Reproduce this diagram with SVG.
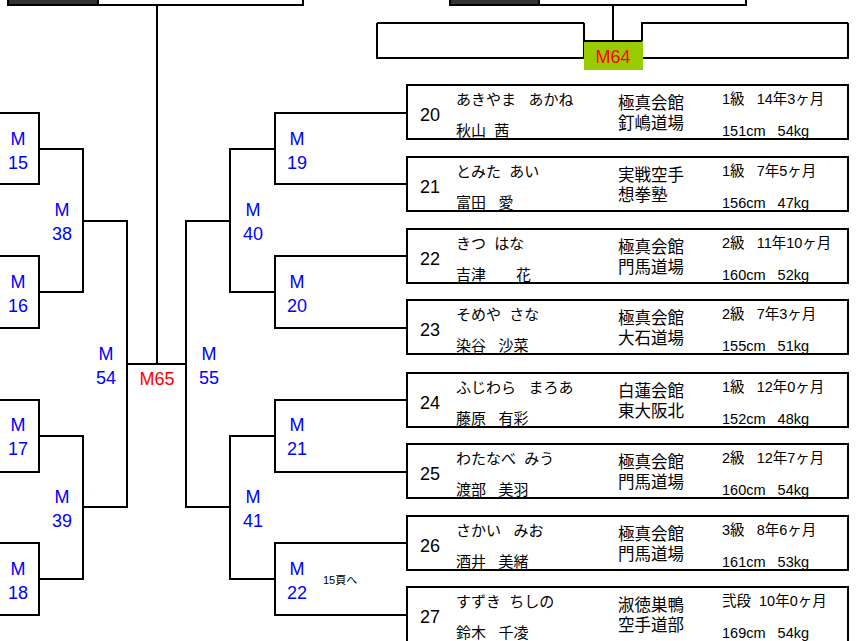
<svg xmlns="http://www.w3.org/2000/svg" width="856" height="641" viewBox="0 0 856 641">
<style>
.ln{stroke:#000;stroke-width:2;fill:none}
.bx{stroke:#000;stroke-width:2;fill:#fff}
.mb{font-family:"Liberation Sans","Noto Sans CJK JP",sans-serif;font-size:18px;fill:#0000ff;text-anchor:middle}
.mr{font-family:"Liberation Sans","Noto Sans CJK JP",sans-serif;font-size:18px;fill:#ff0000;text-anchor:middle}
.t{font-family:"Liberation Sans","Noto Sans CJK JP",sans-serif;fill:#000}
.num{font-size:18px}
.kn{font-size:15px}
.dj{font-size:16.5px}
.rk{font-size:14.5px}
.ht{font-size:14.5px}
.sm{font-family:"Liberation Sans","Noto Sans CJK JP",sans-serif;font-size:11px;fill:#000}
</style>
<rect width="856" height="641" fill="#fff"/>
<g id="connectors">
<rect x="8" y="-10" width="90" height="15" fill="#333" stroke="#000" stroke-width="2"/>
<rect x="98" y="-10" width="205" height="15" class="bx"/>
<line x1="157" y1="5" x2="157" y2="364" class="ln"/>
<rect x="450" y="-10" width="89" height="15" fill="#333" stroke="#000" stroke-width="2"/>
<rect x="539" y="-10" width="207" height="15" class="bx"/>
<line x1="613" y1="5" x2="613" y2="41" class="ln"/>
<polyline points="377,23 377,58 584,58 584,23" class="ln"/>
<line x1="377" y1="23" x2="584" y2="23" class="ln"/>
<polyline points="848,23 642,23 642,58 848,58 848,23" class="ln"/>
<polyline points="0,113 39,113 39,184 0,184" class="ln"/>
<polyline points="0,256 39,256 39,328 0,328" class="ln"/>
<polyline points="0,400 39,400 39,472 0,472" class="ln"/>
<polyline points="0,543 39,543 39,615 0,615" class="ln"/>
<polyline points="39,149 83,149 83,292 39,292" class="ln"/>
<polyline points="39,436 83,436 83,579 39,579" class="ln"/>
<polyline points="83,221 127,221 127,507 83,507" class="ln"/>
<line x1="127" y1="364" x2="186" y2="364" class="ln"/>
<polyline points="230,221 186,221 186,507 230,507" class="ln"/>
<polyline points="275,149 230,149 230,292 275,292" class="ln"/>
<polyline points="275,436 230,436 230,579 275,579" class="ln"/>
<polyline points="407,113 275,113 275,184 407,184" class="ln"/>
<polyline points="407,256 275,256 275,328 407,328" class="ln"/>
<polyline points="407,400 275,400 275,472 407,472" class="ln"/>
<polyline points="407,543 275,543 275,615 407,615" class="ln"/>
</g>
<g id="m64">
<rect x="584" y="41" width="59" height="29" fill="#99cc00"/>
<line x1="584" y1="41" x2="642" y2="41" class="ln"/>
<text x="613" y="63" class="mr">M64</text>
</g>
<g id="m15"><text x="18" y="145" class="mb">M</text><text x="18" y="169" class="mb">15</text></g>
<g id="m16"><text x="18" y="288" class="mb">M</text><text x="18" y="312" class="mb">16</text></g>
<g id="m17"><text x="18" y="431" class="mb">M</text><text x="18" y="455" class="mb">17</text></g>
<g id="m18"><text x="18" y="575" class="mb">M</text><text x="18" y="599" class="mb">18</text></g>
<g id="m38"><text x="62" y="216" class="mb">M</text><text x="62" y="240" class="mb">38</text></g>
<g id="m39"><text x="62" y="503" class="mb">M</text><text x="62" y="527" class="mb">39</text></g>
<g id="m54"><text x="106" y="360" class="mb">M</text><text x="106" y="384" class="mb">54</text></g>
<g id="m65"><text x="157" y="385" class="mr">M65</text></g>
<g id="m55"><text x="209" y="360" class="mb">M</text><text x="209" y="384" class="mb">55</text></g>
<g id="m40"><text x="253" y="216" class="mb">M</text><text x="253" y="240" class="mb">40</text></g>
<g id="m41"><text x="253" y="503" class="mb">M</text><text x="253" y="527" class="mb">41</text></g>
<g id="m19"><text x="297" y="145" class="mb">M</text><text x="297" y="169" class="mb">19</text></g>
<g id="m20"><text x="297" y="288" class="mb">M</text><text x="297" y="312" class="mb">20</text></g>
<g id="m21"><text x="297" y="431" class="mb">M</text><text x="297" y="455" class="mb">21</text></g>
<g id="m22"><text x="297" y="575" class="mb">M</text><text x="297" y="599" class="mb">22</text><text x="323" y="584" class="sm">15頁へ</text></g>

<g id="e20" transform="translate(0,85)">
<rect x="407" y="0" width="441" height="54" class="bx"/>
<text x="420" y="36" class="t num">20</text>
<text x="456" y="20" class="t kn">あきやま&#160;&#160;&#160;あかね</text>
<text x="456" y="51" class="t kn">秋山&#160;&#160;茜</text>
<text x="618" y="24" class="t dj">極真会館</text>
<text x="618" y="44" class="t dj">釘嶋道場</text>
<text x="722" y="19" class="t rk">1級&#160;&#160;&#160;14年3ヶ月</text>
<text x="722" y="51" class="t ht">151cm&#160;&#160;&#160;54kg</text>
</g>
<g id="e21" transform="translate(0,157)">
<rect x="407" y="0" width="441" height="54" class="bx"/>
<text x="420" y="36" class="t num">21</text>
<text x="456" y="20" class="t kn">とみた&#160;&#160;あい</text>
<text x="456" y="51" class="t kn">富田&#160;&#160;&#160;愛</text>
<text x="618" y="24" class="t dj">実戦空手</text>
<text x="618" y="44" class="t dj">想拳塾</text>
<text x="722" y="19" class="t rk">1級&#160;&#160;&#160;7年5ヶ月</text>
<text x="722" y="51" class="t ht">156cm&#160;&#160;&#160;47kg</text>
</g>
<g id="e22" transform="translate(0,229)">
<rect x="407" y="0" width="441" height="54" class="bx"/>
<text x="420" y="36" class="t num">22</text>
<text x="456" y="20" class="t kn">きつ&#160;&#160;はな</text>
<text x="456" y="51" class="t kn">吉津　　花</text>
<text x="618" y="24" class="t dj">極真会館</text>
<text x="618" y="44" class="t dj">門馬道場</text>
<text x="722" y="19" class="t rk">2級&#160;&#160;&#160;11年10ヶ月</text>
<text x="722" y="51" class="t ht">160cm&#160;&#160;&#160;52kg</text>
</g>
<g id="e23" transform="translate(0,300)">
<rect x="407" y="0" width="441" height="54" class="bx"/>
<text x="420" y="36" class="t num">23</text>
<text x="456" y="20" class="t kn">そめや&#160;&#160;さな</text>
<text x="456" y="51" class="t kn">染谷&#160;&#160;&#160;沙菜</text>
<text x="618" y="24" class="t dj">極真会館</text>
<text x="618" y="44" class="t dj">大石道場</text>
<text x="722" y="19" class="t rk">2級&#160;&#160;&#160;7年3ヶ月</text>
<text x="722" y="51" class="t ht">155cm&#160;&#160;&#160;51kg</text>
</g>
<g id="e24" transform="translate(0,373)">
<rect x="407" y="0" width="441" height="54" class="bx"/>
<text x="420" y="36" class="t num">24</text>
<text x="456" y="20" class="t kn">ふじわら&#160;&#160;&#160;まろあ</text>
<text x="456" y="51" class="t kn">藤原&#160;&#160;&#160;有彩</text>
<text x="618" y="24" class="t dj">白蓮会館</text>
<text x="618" y="44" class="t dj">東大阪北</text>
<text x="722" y="19" class="t rk">1級&#160;&#160;&#160;12年0ヶ月</text>
<text x="722" y="51" class="t ht">152cm&#160;&#160;&#160;48kg</text>
</g>
<g id="e25" transform="translate(0,444)">
<rect x="407" y="0" width="441" height="54" class="bx"/>
<text x="420" y="36" class="t num">25</text>
<text x="456" y="20" class="t kn">わたなべ&#160;&#160;みう</text>
<text x="456" y="51" class="t kn">渡部&#160;&#160;&#160;美羽</text>
<text x="618" y="24" class="t dj">極真会館</text>
<text x="618" y="44" class="t dj">門馬道場</text>
<text x="722" y="19" class="t rk">2級&#160;&#160;&#160;12年7ヶ月</text>
<text x="722" y="51" class="t ht">160cm&#160;&#160;&#160;54kg</text>
</g>
<g id="e26" transform="translate(0,516)">
<rect x="407" y="0" width="441" height="54" class="bx"/>
<text x="420" y="36" class="t num">26</text>
<text x="456" y="20" class="t kn">さかい&#160;&#160;&#160;みお</text>
<text x="456" y="51" class="t kn">酒井&#160;&#160;&#160;美緒</text>
<text x="618" y="24" class="t dj">極真会館</text>
<text x="618" y="44" class="t dj">門馬道場</text>
<text x="722" y="19" class="t rk">3級&#160;&#160;&#160;8年6ヶ月</text>
<text x="722" y="51" class="t ht">161cm&#160;&#160;&#160;53kg</text>
</g>
<g id="e27" transform="translate(0,587)">
<rect x="407" y="0" width="441" height="60" class="bx"/>
<text x="420" y="36" class="t num">27</text>
<text x="456" y="20" class="t kn">すずき&#160;&#160;ちしの</text>
<text x="456" y="51" class="t kn">鈴木&#160;&#160;&#160;千凌</text>
<text x="618" y="24" class="t dj">淑徳巣鴨</text>
<text x="618" y="44" class="t dj">空手道部</text>
<text x="722" y="19" class="t rk">弐段&#160;&#160;10年0ヶ月</text>
<text x="722" y="51" class="t ht">169cm&#160;&#160;&#160;54kg</text>
</g>
</svg>
